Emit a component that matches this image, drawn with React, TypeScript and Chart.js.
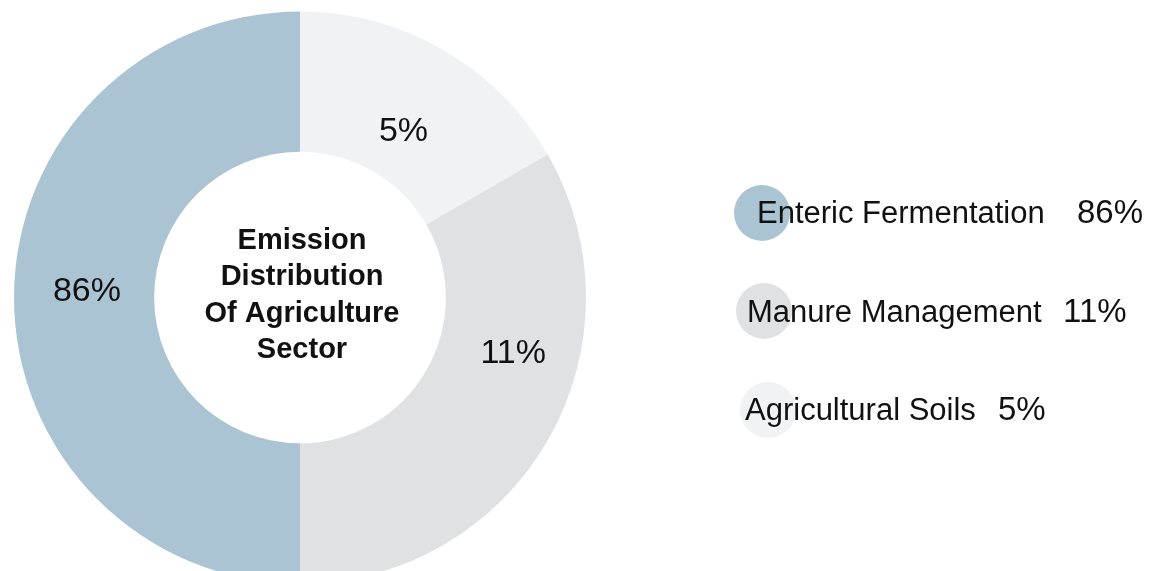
import React, { useEffect, useRef } from "react";
import { Chart, registerables } from "chart.js";

Chart.register(...registerables);

// ---- data (slices drawn clockwise from 12 o'clock) ----
const categories = ["Agricultural Soils", "Manure Management", "Enteric Fermentation"];
const sharePercent = [5, 11, 86]; // printed shares
const sliceSizes = [1, 2, 3]; // angular size of each slice as drawn in the reference
const sliceColors = ["#f1f2f4", "#e0e1e3", "#abc4d3"];
const centerTitle = ["Emission", "Distribution", "Of Agriculture", "Sector"];
const legendOrder = [2, 1, 0];

// ---- style / layout ----
const FONT = "'Liberation Sans', Arial, Helvetica, sans-serif";
const labelAngleFrac = [0.53, 0.37, 0.51];
const labelRadiusFrac = [0.36, 0.53, 0.48];
const legendRows = [
  { cx: 762, cy: 213, tx: 757, ty: 223, px: 1077 },
  { cx: 764, cy: 311, tx: 747, ty: 322, px: 1063 },
  { cx: 768, cy: 410, tx: 745, ty: 420, px: 998 },
];

const overlayPlugin = {
  id: "overlay",
  afterDatasetsDraw(chart: any) {
    const ctx = chart.ctx;
    const meta = chart.getDatasetMeta(0);
    const arcs = meta.data;
    ctx.save();
    ctx.fillStyle = "#111111";
    ctx.textAlign = "center";
    ctx.textBaseline = "middle";
    ctx.font = `34px ${FONT}`;
    arcs.forEach((arc: any, i: number) => {
      const { x, y, startAngle, endAngle, innerRadius, outerRadius } = arc.getProps(
        ["x", "y", "startAngle", "endAngle", "innerRadius", "outerRadius"],
        true
      );
      const a = startAngle + labelAngleFrac[i] * (endAngle - startAngle);
      const r = innerRadius + labelRadiusFrac[i] * (outerRadius - innerRadius);
      ctx.fillText(`${sharePercent[i]}%`, x + r * Math.cos(a), y + r * Math.sin(a) + 1);
    });

    // center title
    const c = arcs[0];
    ctx.font = `bold 29px ${FONT}`;
    ctx.textBaseline = "alphabetic";
    centerTitle.forEach((line, k) => {
      ctx.fillText(line, c.x + 2, 249 + k * 36.3);
    });

    // legend
    legendOrder.forEach((idx, row) => {
      const L = legendRows[row];
      ctx.beginPath();
      ctx.arc(L.cx, L.cy, 28, 0, Math.PI * 2);
      ctx.fillStyle = sliceColors[idx];
      ctx.fill();
      ctx.fillStyle = "#111111";
      ctx.textAlign = "left";
      ctx.font = `31px ${FONT}`;
      ctx.fillText(categories[idx], L.tx, L.ty);
      ctx.font = `33px ${FONT}`;
      ctx.fillText(`${sharePercent[idx]}%`, L.px, L.ty);
    });
    ctx.restore();
  },
};

export default function App() {
  const ref = useRef<HTMLCanvasElement | null>(null);
  useEffect(() => {
    if (!ref.current) return;
    const chart = new Chart(ref.current, {
      type: "doughnut",
      data: {
        labels: categories,
        datasets: [
          {
            data: sliceSizes,
            backgroundColor: sliceColors,
            borderWidth: 0,
            radius: 286,
            cutout: "51%",
            clip: false,
          } as any,
        ],
      },
      options: {
        responsive: false,
        animation: false,
        layout: { padding: { left: 0, right: 549, top: 24, bottom: 0 } },
        plugins: { legend: { display: false }, tooltip: { enabled: false } },
      },
      plugins: [overlayPlugin],
    });
    return () => chart.destroy();
  }, []);
  return (
    <div
      style={{
        position: "fixed",
        left: 0,
        top: 0,
        width: 1149,
        height: 571,
        overflow: "hidden",
        background: "#ffffff",
      }}
    >
      <canvas ref={ref} width={1149} height={571} style={{ display: "block" }} />
    </div>
  );
}
